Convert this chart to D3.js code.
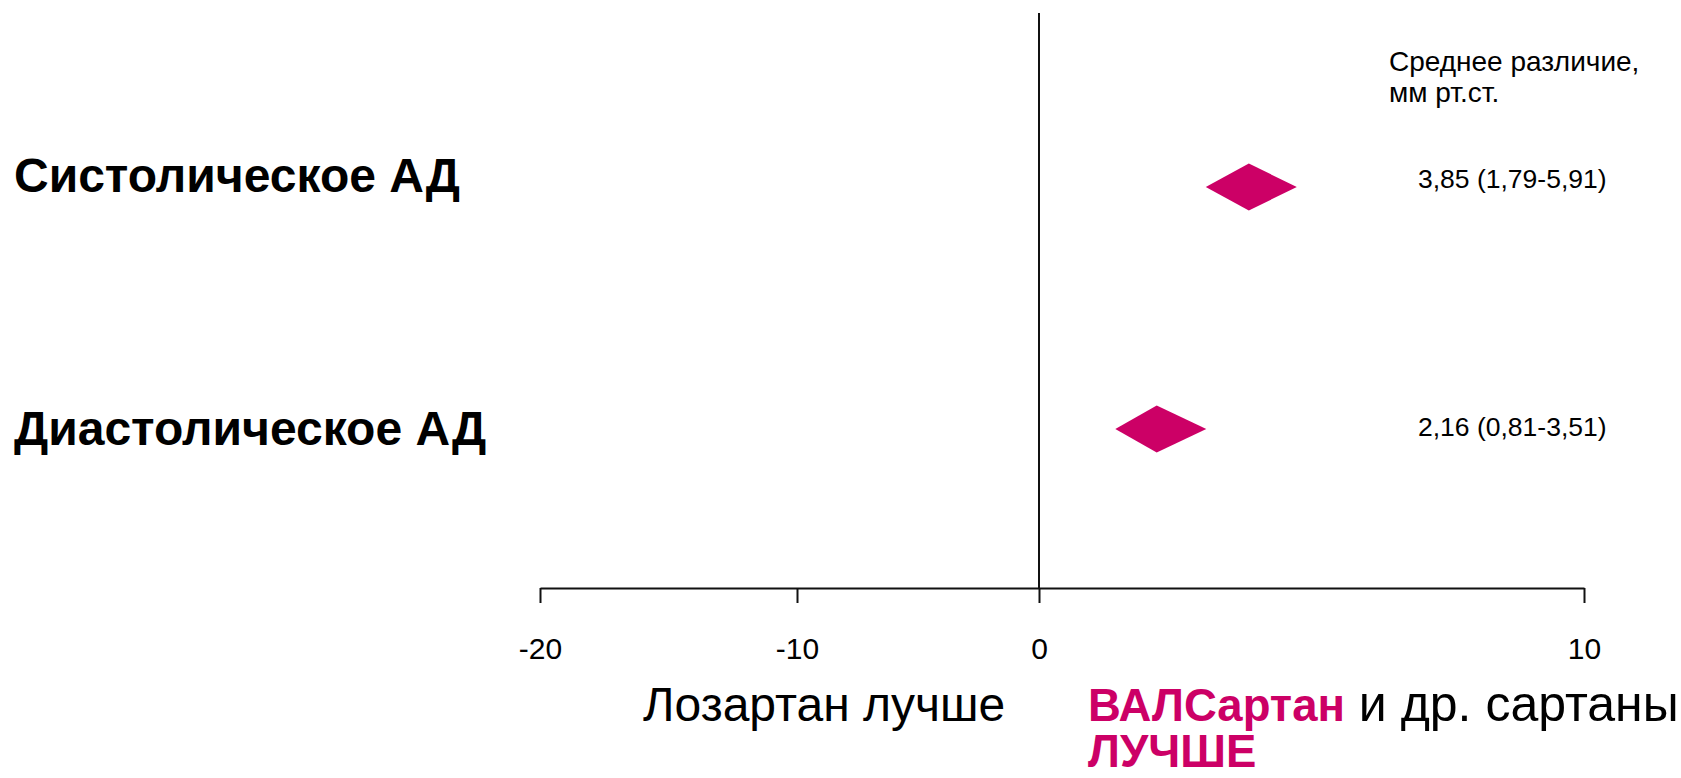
<!DOCTYPE html>
<html>
<head>
<meta charset="utf-8">
<script src="https://cdn.jsdelivr.net/npm/d3@7"></script>
<style>
  html, body { margin: 0; padding: 0; background: #fff; }
  svg { display: block; }
  text { font-family: "Liberation Sans", Arial, sans-serif; }
</style>
</head>
<body>
<svg id="chart" width="1681" height="778"></svg>
<script>
// ---- data ----
const categories = ["Систолическое АД", "Диастолическое АД"];
const meanDiff = [3.85, 2.16];
const diamondLo = [3.06, 1.40];
const diamondHi = [4.73, 3.07];
const ciLabels = ["3,85 (1,79-5,91)", "2,16 (0,81-3,51)"];
const tickValues = [-20, -10, 0, 10];
const headerLines = ["Среднее различие,", "мм рт.ст."];
const leftCaption = "Лозартан лучше";
const rightCaptionBold = "ВАЛСартан";
const rightCaptionRest = " и др. сартаны";
const rightCaptionLine2 = "ЛУЧШЕ";

const MAGENTA = "#cc0066";
const svg = d3.select("#chart");

// piecewise linear x scale (the original axis is not uniformly spaced)
const x = d3.scaleLinear()
  .domain(tickValues)
  .range([540, 797, 1039, 1584]);

const y = d3.scalePoint().domain(categories).range([187, 429]);
const yLabel = d3.scalePoint().domain(categories).range([192, 445]);
const yValue = d3.scalePoint().domain(categories).range([188, 436]);

const axisY = 588;

// zero reference line
svg.append("line")
  .attr("x1", x(0)).attr("x2", x(0))
  .attr("y1", 13).attr("y2", axisY)
  .attr("stroke", "#111").attr("stroke-width", 2);

// axis
const axis = d3.axisBottom(x)
  .tickValues(tickValues)
  .tickFormat(d3.format("d"))
  .tickSize(15)
  .tickSizeOuter(0)
  .tickPadding(35);

const gAxis = svg.append("g")
  .attr("transform", `translate(0,${axisY})`)
  .call(axis);
gAxis.select(".domain").attr("stroke", "#111").attr("stroke-width", 2);
gAxis.selectAll(".tick line").attr("stroke", "#111").attr("stroke-width", 2);
gAxis.selectAll(".tick text")
  .attr("fill", "#000")
  .style("font-size", "30px")
  .style("font-family", "'Liberation Sans', Arial, sans-serif")
  .text(d => d3.format("d")(d).replace("−", "-"));

// diamonds
const halfH = 23.5;
const rows = categories.map((c, i) => ({
  cat: c, mean: meanDiff[i], lo: diamondLo[i], hi: diamondHi[i], label: ciLabels[i]
}));

svg.append("g").selectAll("path")
  .data(rows)
  .join("path")
  .attr("d", d => {
    const cy = y(d.cat);
    return `M${x(d.lo)},${cy} L${x(d.mean)},${cy - halfH} L${x(d.hi)},${cy} L${x(d.mean)},${cy + halfH} Z`;
  })
  .attr("fill", MAGENTA);

// category labels
svg.append("g").selectAll("text")
  .data(rows)
  .join("text")
  .attr("x", 14)
  .attr("y", d => yLabel(d.cat))
  .attr("font-size", 48)
  .attr("font-weight", "bold")
  .attr("fill", "#000")
  .text(d => d.cat);

// value labels
svg.append("g").selectAll("text")
  .data(rows)
  .join("text")
  .attr("x", 1418)
  .attr("y", d => yValue(d.cat))
  .attr("font-size", 26.5)
  .attr("fill", "#000")
  .text(d => d.label);

// header
svg.append("g").selectAll("text")
  .data(headerLines)
  .join("text")
  .attr("x", 1389)
  .attr("y", (d, i) => 71 + i * 31)
  .attr("font-size", 28)
  .attr("fill", "#000")
  .text(d => d);

// bottom captions
svg.append("text")
  .attr("x", 643).attr("y", 721)
  .attr("font-size", 48)
  .attr("fill", "#000")
  .text(leftCaption);

const rc = svg.append("text")
  .attr("x", 1088).attr("y", 721);
rc.append("tspan").attr("font-size", 45.5).attr("font-weight", "bold").attr("fill", MAGENTA).text(rightCaptionBold);
rc.append("tspan").attr("font-size", 50).attr("fill", "#000").text(rightCaptionRest);

svg.append("text")
  .attr("x", 1088).attr("y", 767)
  .attr("font-size", 45.5)
  .attr("font-weight", "bold")
  .attr("fill", MAGENTA)
  .text(rightCaptionLine2);
</script>
</body>
</html>
